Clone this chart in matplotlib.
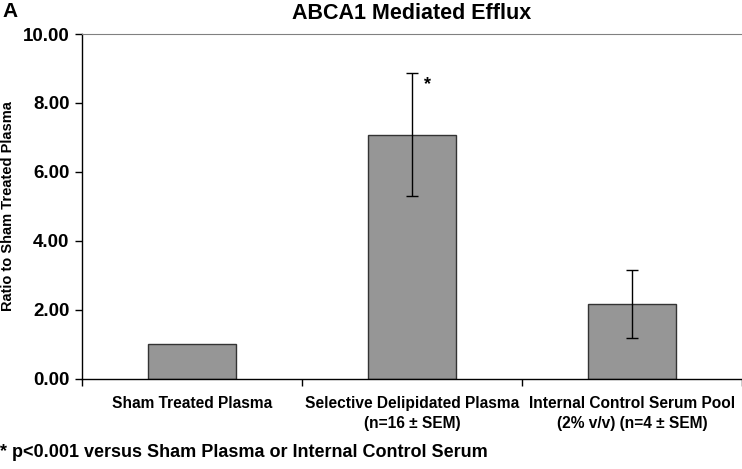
import matplotlib
matplotlib.use("Agg")
import matplotlib.pyplot as plt

categories = ["Sham Treated Plasma",
              "Selective Delipidated Plasma\n(n=16 \u00b1 SEM)",
              "Internal Control Serum Pool\n(2% v/v) (n=4 \u00b1 SEM)"]
ratios = [1.00, 7.08, 2.18]
sem = [0.0, 1.78, 0.99]
y_ticks = [0, 2, 4, 6, 8, 10]

plt.rcParams['font.family'] = ['Liberation Sans', 'DejaVu Sans']
plt.rcParams['font.weight'] = 'bold'

fig = plt.figure(figsize=(7.42, 4.69), dpi=100)
ax = fig.add_axes([0.1105, 0.192, 0.8895, 0.7355])

x = list(range(len(categories)))
ax.bar(x, ratios, width=0.4, color="#969696", edgecolor="#333333", linewidth=1.0, zorder=2)
err_x = [i for i in x if sem[i] > 0]
ax.errorbar(err_x, [ratios[i] for i in err_x], yerr=[sem[i] for i in err_x],
            fmt="none", ecolor="black", elinewidth=1.0, capsize=4.5, capthick=1.0, zorder=3)

# significance marker next to the delipidated plasma error bar
ax.annotate("*", xy=(1, ratios[1] + sem[1]), xytext=(9, -8), textcoords="offset points",
            fontsize=13, fontweight="bold", ha="left", va="center")

ax.set_xlim(-0.5, 2.5)
ax.set_ylim(0, 10)
ax.set_yticks(y_ticks)
ax.set_yticklabels([f"{v:.2f}" for v in y_ticks], fontsize=13.5, fontweight="bold")
ax.set_xticks([-0.5, 0.5, 1.5, 2.5])
ax.set_xticklabels([])
ax.set_xticks(x, minor=True)
ax.set_xticklabels(categories, minor=True, fontsize=11.2, fontweight="bold", linespacing=1.45)
ax.tick_params(axis="x", which="minor", length=0, pad=12)
ax.tick_params(axis="x", which="major", length=5, width=1, direction="out")
ax.tick_params(axis="y", length=5, width=1, direction="out", pad=4)

ax.spines["right"].set_visible(False)
ax.spines["top"].set_color("#808080")
ax.spines["left"].set_linewidth(1.0)
ax.spines["bottom"].set_linewidth(1.0)

ax.set_ylabel("Ratio to Sham Treated Plasma", fontsize=10.5, fontweight="bold")
ax.yaxis.set_label_coords(-0.101, 0.5)
ax.set_title("ABCA1 Mediated Efflux", fontsize=15.5, fontweight="bold", pad=11)

fig.text(0.003, 0.995, "A", fontsize=15, fontweight="bold", ha="left", va="top")
fig.text(0.0, 0.036, "* p<0.001 versus Sham Plasma or Internal Control Serum",
         fontsize=13, fontweight="bold", ha="left", va="center")

fig.savefig("out.png", dpi=100)
